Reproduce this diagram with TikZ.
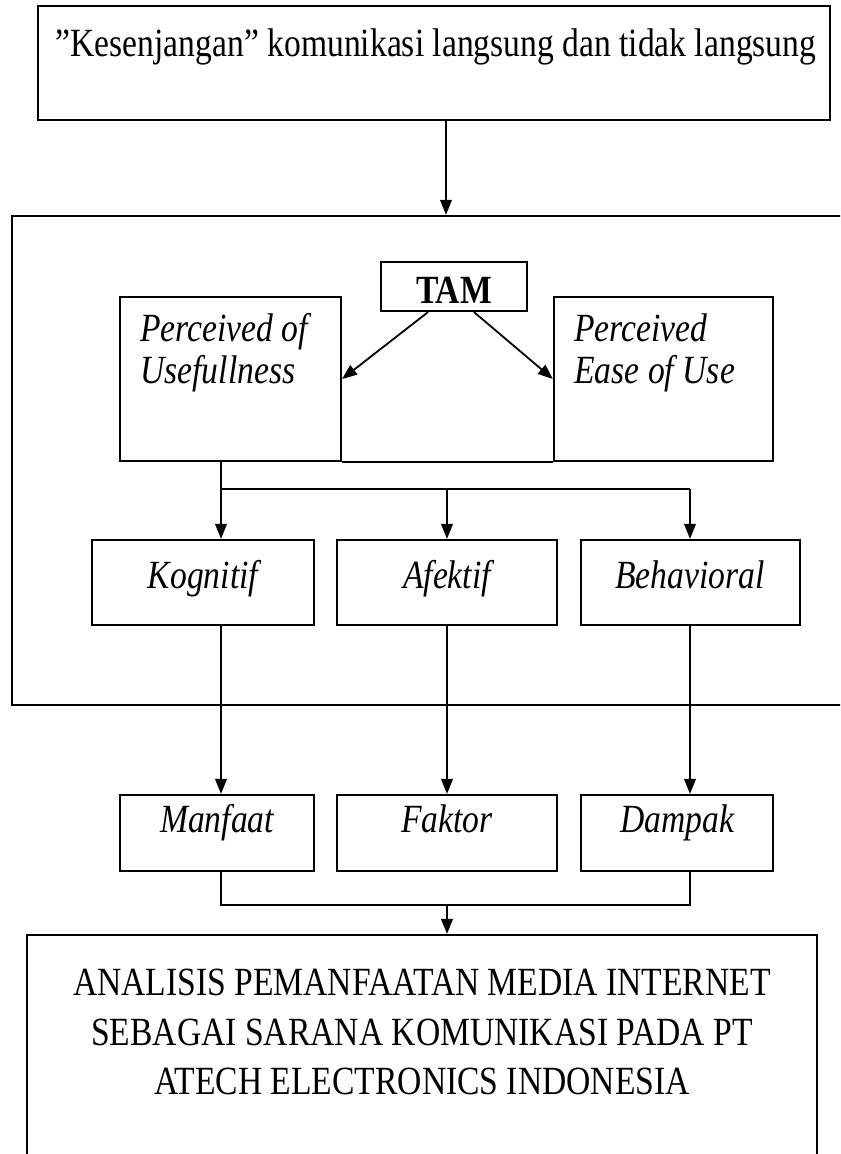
\documentclass[tikz,border=0pt]{standalone}
\usepackage{fontspec}
\setmainfont{Liberation Serif}[FakeStretch=0.84]
\usetikzlibrary{arrows.meta,fit}
\begin{document}
\begin{tikzpicture}[x=0.5pt,y=-0.5pt,
  box/.style={draw, line width=1.1pt, inner sep=0pt, rectangle},
  ln/.style={line width=0.9pt},
  arr/.style={line width=0.9pt, -{Triangle[length=7.5pt,width=5.8pt]}},
  txt/.style={font=\fontsize{20}{25}\selectfont, inner sep=0pt, anchor=base},
  itx/.style={font=\fontsize{20}{25}\selectfont\itshape, inner sep=0pt, anchor=base},
  itl/.style={font=\fontsize{20}{25}\selectfont\itshape, inner sep=0pt, anchor=base west}]
\useasboundingbox (0,0) rectangle (840,1154);
\clip (0,0) rectangle (840,1154);
% boxes
\node[box, fit={(38,6) (830,120)}] (top) {};
\node[box, fit={(12,216) (850,705)}] (big) {};
\node[box, fit={(381,262) (527,311)}] (tam) {};
\node[box, fit={(120,297) (341,461)}] (pu) {};
\node[box, fit={(554,297) (773,461)}] (pe) {};
\node[box, fit={(92,540) (314,625)}] (kog) {};
\node[box, fit={(337,540) (557,625)}] (afe) {};
\node[box, fit={(581,540) (800,625)}] (beh) {};
\node[box, fit={(120,795) (314,871)}] (man) {};
\node[box, fit={(337,795) (557,871)}] (fak) {};
\node[box, fit={(581,795) (773,871)}] (dam) {};
\node[box, fit={(27,935) (817,1180)}] (fin) {};
% texts
\node[txt] (topt) at (436,57) {”Kesenjangan” komunikasi langsung dan tidak langsung};
\node[txt, font=\fontsize{20}{25}\selectfont\bfseries] (tamt) at (454,304) {TAM};
\node[itl] (pu1) at (140,342) {Perceived of};
\node[itl] (pu2) at (140,384) {Usefullness};
\node[itl] (pe1) at (574,342) {Perceived};
\node[itl] (pe2) at (574,384) {Ease of Use};
\node[itx] (kogt) at (203,588) {Kognitif};
\node[itx] (afet) at (447,588) {Afektif};
\node[itx] (beht) at (690,588) {Behavioral};
\node[itx] (mant) at (217,832) {Manfaat};
\node[itx] (fakt) at (447,832) {Faktor};
\node[itx] (damt) at (677,832) {Dampak};
\node[txt] (f1) at (422,995) {ANALISIS PEMANFAATAN MEDIA INTERNET};
\node[txt] (f2) at (422,1045) {SEBAGAI SARANA KOMUNIKASI PADA PT};
\node[txt] (f3) at (422,1094) {ATECH ELECTRONICS INDONESIA};
% connectors
\coordinate (ta) at (446,120);
\draw[arr] (top.south -| ta) -- (big.north -| ta);
\draw[arr] ([xshift=-13pt]tam.south) -- (pu.east);
\draw[arr] ([xshift=10pt]tam.south) -- (pe.west);
\draw[ln] (pu.south east) -- (pe.south west);
\coordinate (s1) at (221,489);
\coordinate (s3) at (690,489);
\draw[ln] (pu.south -| s1) -- (s1) -- (s3);
\draw[arr] (s1) -- (s1 |- kog.north);
\draw[arr] (afe.north |- s1) -- (afe.north);
\draw[arr] (s3) -- (s3 |- beh.north);
\draw[arr] (s1 |- kog.south) -- (s1 |- man.north);
\draw[arr] (afe.south) -- (fak.north);
\draw[arr] (s3 |- beh.south) -- (s3 |- dam.north);
\coordinate (b1) at (221,905);
\coordinate (b3) at (690,905);
\coordinate (bm) at (447,905);
\draw[ln] (b1 |- man.south) -- (b1) -- (b3) -- (b3 |- dam.south);
\draw[arr] (bm) -- (bm |- fin.north);
\end{tikzpicture}
\end{document}
